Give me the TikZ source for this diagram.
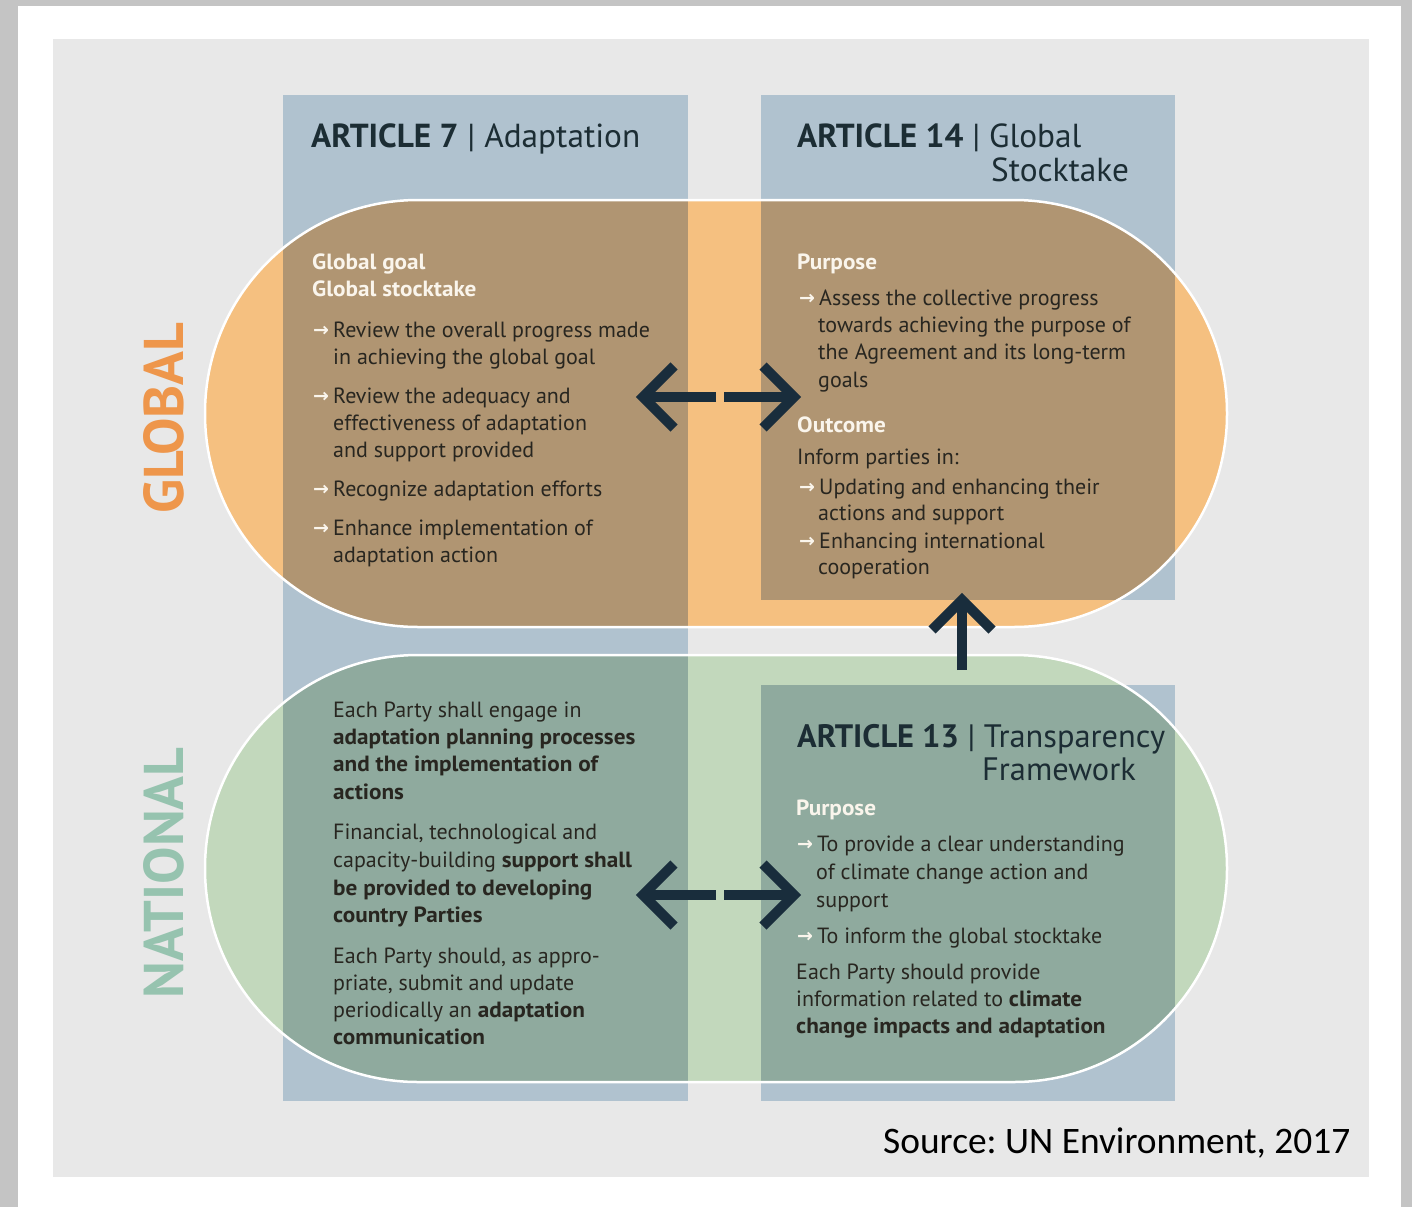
\documentclass[tikz,border=0pt]{standalone}
\usepackage{fontspec}
\setmainfont{PT Sans}[BoldFeatures={FakeStretch=1.055}]
\newfontfamily\titlefont{PT Sans}
\newfontfamily\arrowfont{DejaVu Sans}
\newfontfamily\srcfont{Carlito}

\definecolor{pageedge}{RGB}{196,196,196}
\definecolor{panel}{RGB}{232,232,232}
\definecolor{colblue}{RGB}{176,194,207}
\definecolor{globalfill}{RGB}{245,192,128}
\definecolor{globaldeep}{RGB}{176,149,114}
\definecolor{natfill}{RGB}{194,216,188}
\definecolor{natdeep}{RGB}{143,170,158}
\definecolor{navy}{RGB}{25,45,60}
\definecolor{titlec}{RGB}{28,45,52}
\definecolor{bodyc}{RGB}{40,38,32}
\definecolor{headc}{RGB}{250,245,236}
\definecolor{globtxt}{RGB}{238,150,75}
\definecolor{nattxt}{RGB}{150,195,175}

\newcommand\bul{\makebox[20pt][l]{\raisebox{0.5pt}{\arrowfont\bfseries\fontsize{19}{19}\selectfont\color{headc}→}}}

\tikzset{
  body/.style={anchor=base west, inner sep=0pt, text=bodyc,
    font=\fontsize{22}{27}\selectfont},
  head/.style={body, text=headc, font=\fontsize{22}{27}\selectfont\bfseries},
  title/.style={anchor=base west, inner sep=0pt, text=titlec,
    font=\titlefont\fontsize{33.3}{40}\selectfont},
  side/.style={inner sep=0pt, rotate=90, font=\titlefont\bfseries\fontsize{56}{60}\selectfont},
  bigarrow/.style={draw=navy, line width=10pt},
  chevron/.style={draw=navy, line width=10pt, miter limit=10},
  pillrim/.style={draw=white, line width=2.5pt},
}

% places the lines of one text block: x / baseline y / text
\newcommand\textblock[3]{%
  \foreach \xx/\yy/\ltext [count=\k] in {#3}
    {\node[#2] (#1-\k) at (\xx,\yy) {\ltext};}}

\begin{document}
\frenchspacing
\begin{tikzpicture}[x=1pt,y=-1pt]
\useasboundingbox (0,0) rectangle (1412,1207);

% page and panel
\fill[pageedge] (0,0) rectangle (1412,1207);
\fill[white] (18,6) rectangle (1401,1207);
\fill[panel] (53,39) rectangle (1369,1177);

% article columns
\fill[colblue] (283,95) rectangle (688,1101);
\fill[colblue] (761,95) rectangle (1175,600);
\fill[colblue] (761,685) rectangle (1175,1101);

% global band
\fill[globalfill, rounded corners=213pt] (205,200) rectangle (1227,627);
\begin{scope}
  \clip[rounded corners=213pt] (205,200) rectangle (1227,627);
  \fill[globaldeep] (283,95) rectangle (688,1101);
  \fill[globaldeep] (761,95) rectangle (1175,600);
\end{scope}
\draw[pillrim, rounded corners=213pt] (205,200) rectangle (1227,627);

% national band
\fill[natfill, rounded corners=213pt] (205,655) rectangle (1227,1082);
\begin{scope}
  \clip[rounded corners=213pt] (205,655) rectangle (1227,1082);
  \fill[natdeep] (283,95) rectangle (688,1101);
  \fill[natdeep] (761,685) rectangle (1175,1101);
\end{scope}
\draw[pillrim, rounded corners=213pt] (205,655) rectangle (1227,1082);

% side labels
\node[side, text=globtxt] (global) at (164,418) {GLOBAL};
\node[side, text=nattxt] (national) at (164,873) {NATIONAL};

% titles
\node[title] (t7) at (311,147) {\textbf{ARTICLE 7} | Adaptation};
\node[title] (t14) at (797,147) {\textbf{ARTICLE 14} | Global};
\node[title] (t14b) at (991,181) {Stocktake};
\node[title, font=\titlefont\fontsize{32.4}{40}\selectfont] (t13) at (797,747) {\textbf{ARTICLE 13} | Transparency};
\node[title, font=\titlefont\fontsize{32.4}{40}\selectfont] (t13b) at (982,780) {Framework};

% Article 7, global
\textblock{hA}{head}{312/269/Global goal, 312/296/Global stocktake}
\textblock{bA}{body}{
  313/337/{\bul Review the overall progress made},
  333/364/{in achieving the global goal},
  313/403/{\bul Review the adequacy and},
  333/430/{effectiveness of adaptation},
  333/457/{and support provided},
  313/496/{\bul Recognize adaptation efforts},
  313/535/{\bul Enhance implementation of},
  333/562/{adaptation action}}

% Article 14
\textblock{hB}{head}{797/269/Purpose, 797/432/Outcome}
\textblock{bB}{body}{
  799/305/{\bul Assess the collective progress},
  818/332/{towards achieving the purpose of},
  818/359/{the Agreement and its long-term},
  818/387/{goals},
  797/464/{Inform parties in:},
  799/494/{\bul Updating and enhancing their},
  818/520/{actions and support},
  799/548/{\bul Enhancing international},
  818/574/{cooperation}}

% Article 7, national
\textblock{bC}{body}{
  333/717/{Each Party shall engage in},
  333/744/{\textbf{adaptation planning processes}},
  333/771/{\textbf{and the implementation of}},
  333/799/{\textbf{actions}},
  333/839/{Financial, technological and},
  333/867/{capacity-building \textbf{support shall}},
  333/895/{\textbf{be provided to developing}},
  333/922/{\textbf{country Parties}},
  333/963/{Each Party should, as appro-},
  333/990/{priate, submit and update},
  333/1017/{periodically an \textbf{adaptation}},
  333/1044/{\textbf{communication}}}

% Article 13
\textblock{hD}{head}{796/815/Purpose}
\textblock{bD}{body}{
  797/851/{\bul To provide a clear understanding},
  816/879/{of climate change action and},
  816/907/{support},
  797/943/{\bul To inform the global stocktake},
  796/979/{Each Party should provide},
  796/1006/{information related to \textbf{climate}},
  796/1033/{\textbf{change impacts and adaptation}}}

% arrows between the articles
\coordinate (g-left) at (643,397);
\coordinate (g-mid1) at (716,397);
\coordinate (g-mid2) at (724,397);
\coordinate (g-right) at (794,397);
\coordinate (n-left) at (643,895);
\coordinate (n-mid1) at (716,895);
\coordinate (n-mid2) at (724,895);
\coordinate (n-right) at (794,895);
\coordinate (up-base) at (962,670);
\coordinate (up-tip) at (962,600);

\draw[bigarrow] (g-mid1) -- (g-left);
\draw[chevron] (g-left) ++(31,-31) -- (g-left) -- ++(31,31);
\draw[bigarrow] (g-mid2) -- (g-right);
\draw[chevron] (g-right) ++(-31,-31) -- (g-right) -- ++(-31,31);

\draw[bigarrow] (n-mid1) -- (n-left);
\draw[chevron] (n-left) ++(31,-31) -- (n-left) -- ++(31,31);
\draw[bigarrow] (n-mid2) -- (n-right);
\draw[chevron] (n-right) ++(-31,-31) -- (n-right) -- ++(-31,31);

\draw[bigarrow] (up-base) -- (up-tip);
\draw[chevron] (up-tip) ++(-30,30) -- (up-tip) -- ++(30,30);

% source line
\node[anchor=base west, inner sep=0pt, font=\srcfont\fontsize{37.4}{40}\selectfont]
  (source) at (883,1153) {Source: UN Environment, 2017};
\end{tikzpicture}
\end{document}
